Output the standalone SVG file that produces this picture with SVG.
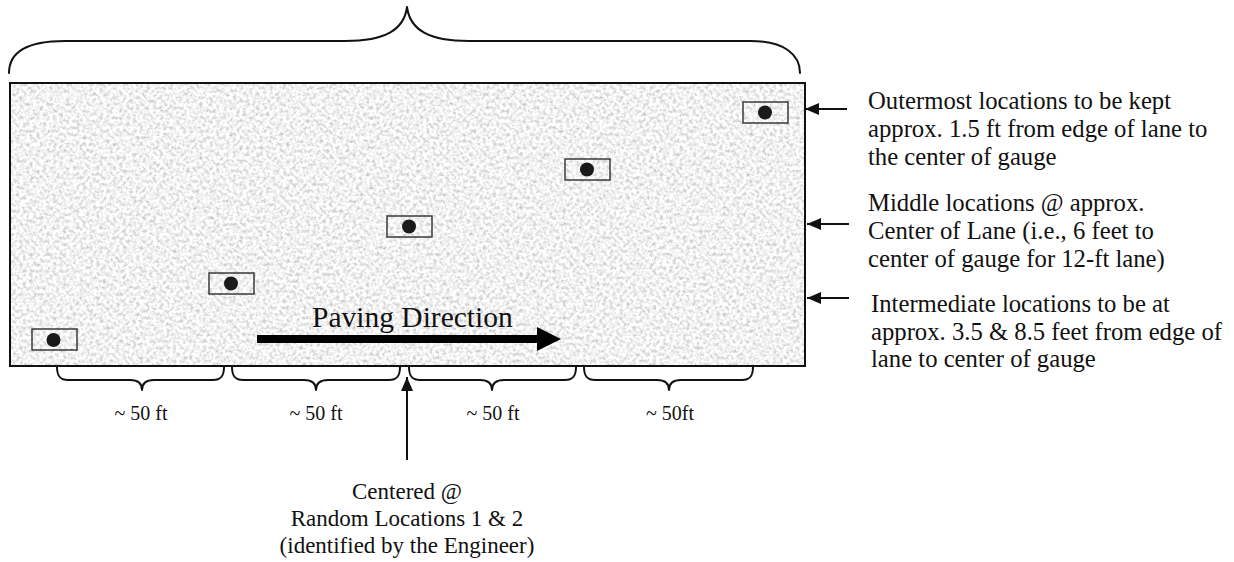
<svg xmlns="http://www.w3.org/2000/svg" width="1234" height="562" viewBox="0 0 1234 562">
  <style>
    .t { font-family: "Liberation Serif", "Times New Roman", serif; fill: #111; }
    .note { font-size: 24.7px; }
    .dim { font-size: 20px; }
    .brace { fill: none; stroke: #111; stroke-width: 2; stroke-linejoin: round; stroke-linecap: round; }
    .gauge-box { fill: none; stroke: #3a3a3a; stroke-width: 1.5; }
    .gauge-dot { fill: #1a1a1a; }
    .conn { stroke: #111; stroke-width: 2; fill: none; }
  </style>
  <defs>
    <filter id="speckle" x="0" y="0" width="100%" height="100%" filterUnits="objectBoundingBox">
      <feTurbulence type="fractalNoise" baseFrequency="0.3" numOctaves="3" seed="7" result="n"/>
      <feColorMatrix in="n" type="matrix" values="0.95 0 0 0 0.41  0.95 0 0 0 0.41  0.95 0 0 0 0.41  0 0 0 0 1"/>
    </filter>
    <marker id="ah" viewBox="0 0 14 12" refX="14" refY="6" markerWidth="14" markerHeight="12" markerUnits="userSpaceOnUse" orient="auto">
      <path d="M0,0 L14,6 L0,12 Z" fill="#111"/>
    </marker>
  </defs>

  <g id="lane">
    <rect x="10" y="83" width="795" height="283" fill="#dedede" filter="url(#speckle)"/>
    <rect x="10" y="83" width="795" height="283" fill="none" stroke="#111" stroke-width="2"/>
  </g>

  <g id="top-brace">
    <path class="brace" d="M9,73 C9,52 28,41 65,41 L345,41 C385,41 404,30 407,7 C410,30 429,41 469,41 L750,41 C785,41 800,55 800,73"/>
  </g>

  <g id="gauge-1"><rect class="gauge-box" x="32" y="329" width="45" height="21"/><circle class="gauge-dot" cx="53.5" cy="340" r="7"/></g>
  <g id="gauge-2"><rect class="gauge-box" x="209" y="273" width="45" height="21"/><circle class="gauge-dot" cx="231" cy="283.5" r="7"/></g>
  <g id="gauge-3"><rect class="gauge-box" x="387" y="216" width="45" height="21"/><circle class="gauge-dot" cx="409" cy="226.5" r="7"/></g>
  <g id="gauge-4"><rect class="gauge-box" x="565" y="159" width="45" height="21"/><circle class="gauge-dot" cx="587" cy="169.5" r="7"/></g>
  <g id="gauge-5"><rect class="gauge-box" x="743" y="102" width="45" height="21"/><circle class="gauge-dot" cx="765" cy="112.5" r="7"/></g>

  <g id="paving-direction">
    <text class="t" x="312" y="327" font-size="29.5">Paving Direction</text>
    <rect x="257" y="335" width="281" height="8" fill="#000"/>
    <polygon points="537,327 561,339 537,351" fill="#000"/>
  </g>

  <g id="bottom-braces">
    <path class="brace" d="M57,367 C57,376 60,380 68,380 L130,380 C138,380 142,383 142,390 C142,383 146,380 154,380 L213,380 C221,380 224,376 224,367"/>
    <path class="brace" d="M232,367 C232,376 235,380 243,380 L304,380 C312,380 316,383 316,390 C316,383 320,380 328,380 L389,380 C397,380 400,376 400,367"/>
    <path class="brace" d="M409,367 C409,376 412,380 420,380 L480,380 C488,380 492,383 492,390 C492,383 496,380 504,380 L565,380 C573,380 576,376 576,367"/>
    <path class="brace" d="M584,367 C584,376 587,380 595,380 L657,380 C665,380 669,383 669,390 C669,383 673,380 681,380 L742,380 C750,380 753,376 753,367"/>
    <text class="t dim" x="141" y="420" text-anchor="middle">~ 50 ft</text>
    <text class="t dim" x="316" y="420" text-anchor="middle">~ 50 ft</text>
    <text class="t dim" x="493" y="420" text-anchor="middle">~ 50 ft</text>
    <text class="t dim" x="670" y="420" text-anchor="middle">~ 50ft</text>
  </g>

  <g id="connectors">
    <line class="conn" x1="847" y1="109" x2="805" y2="109" marker-end="url(#ah)"/>
    <line class="conn" x1="849" y1="224" x2="807" y2="224" marker-end="url(#ah)"/>
    <line class="conn" x1="849" y1="298" x2="807" y2="298" marker-end="url(#ah)"/>
    <line class="conn" x1="407" y1="460" x2="407" y2="377" marker-end="url(#ah)"/>
  </g>

  <g id="note-outermost">
    <text class="t note" x="868" y="109">Outermost locations to be kept</text>
    <text class="t note" x="868" y="137">approx. 1.5 ft from edge of lane to</text>
    <text class="t note" x="868" y="165">the center of gauge</text>
  </g>
  <g id="note-middle">
    <text class="t note" x="868" y="211">Middle locations @ approx.</text>
    <text class="t note" x="868" y="239">Center of Lane (i.e., 6 feet to</text>
    <text class="t note" x="868" y="267">center of gauge for 12-ft lane)</text>
  </g>
  <g id="note-intermediate">
    <text class="t note" x="871" y="312">Intermediate locations to be at</text>
    <text class="t note" x="871" y="340">approx. 3.5 &amp; 8.5 feet from edge of</text>
    <text class="t note" x="871" y="367">lane to center of gauge</text>
  </g>
  <g id="note-random">
    <text class="t" font-size="23" x="407" y="499" text-anchor="middle">Centered @</text>
    <text class="t" font-size="23" x="407" y="526" text-anchor="middle">Random Locations 1 &amp; 2</text>
    <text class="t" font-size="23" x="407" y="553" text-anchor="middle">(identified by the Engineer)</text>
  </g>
</svg>
